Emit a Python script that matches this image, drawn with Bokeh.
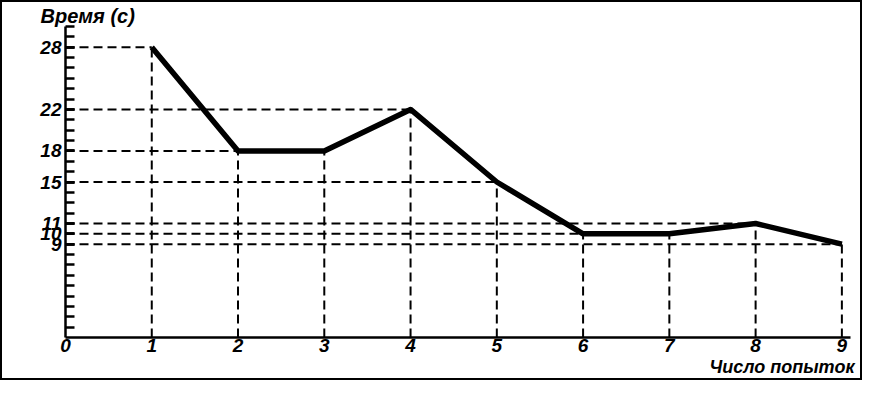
from bokeh.plotting import figure
from bokeh.models import Range1d, FixedTicker, Title, AllLabels
from bokeh.embed import file_html
from bokeh.resources import INLINE

attempts = [1, 2, 3, 4, 5, 6, 7, 8, 9]
times = [28, 18, 18, 22, 15, 10, 10, 11, 9]
y_tick_values = [28, 22, 18, 15, 11, 10, 9]
x_tick_values = [0, 1, 2, 3, 4, 5, 6, 7, 8, 9]
y_title = "Время (с)"
x_title = "Число попыток"

FONT = "Liberation Sans"

p = figure(width=862, height=380, output_backend="svg", toolbar_location=None,
           x_range=Range1d(0, 9.1), y_range=Range1d(0, 30),
           min_border_left=63, min_border_right=14, min_border_top=23, min_border_bottom=45)
p.styles = {"border": "2px solid black"}
p.grid.visible = False
p.outline_line_color = None
p.background_fill_color = "white"
p.border_fill_color = "white"

p.title.text = y_title
p.title.align = "left"
p.title.offset = -25
p.title.standoff = 0
p.title.text_font = FONT
p.title.text_font_style = "bold italic"
p.title.text_font_size = "20px"
p.title.text_color = "black"

p.add_layout(Title(text=x_title, align="right", offset=-4, standoff=0, text_font=FONT,
                   text_font_style="bold italic", text_font_size="18px",
                   text_color="black"), "below")

# dashed guide lines
for xv, yv in zip(attempts, times):
    p.line([xv, xv], [0, yv], line_color="black", line_width=2, line_dash="9 5")
for yv in y_tick_values:
    xs = [a for a, t in zip(attempts, times) if t == yv]
    p.line([0, max(xs)], [yv, yv], line_color="black", line_width=2, line_dash="9 5")

p.line(attempts, times, line_color="black", line_width=5.5, line_join="round")

# axes
xa = p.xaxis[0]
xa.ticker = FixedTicker(ticks=x_tick_values)
xa.axis_line_width = 2.5
xa.major_tick_out = 0
xa.major_tick_in = 0
xa.minor_tick_out = 0
xa.major_label_standoff = 1
xa.major_label_text_font = FONT
xa.major_label_text_font_style = "bold italic"
xa.major_label_text_font_size = "19px"
xa.major_label_text_color = "black"

ya = p.yaxis[0]
ya.ticker = FixedTicker(ticks=y_tick_values, minor_ticks=list(range(1, 31)))
ya.axis_line_width = 2.5
ya.major_tick_out = 0
ya.major_tick_in = 9
ya.major_tick_line_width = 2.5
ya.minor_tick_out = 0
ya.minor_tick_in = 9
ya.minor_tick_line_width = 2.5
ya.major_label_standoff = 4
ya.major_label_policy = AllLabels()
ya.major_label_text_font = FONT
ya.major_label_text_font_style = "bold italic"
ya.major_label_text_font_size = "19px"
ya.major_label_text_color = "black"

open("out.html", "w").write(file_html(p, INLINE))
